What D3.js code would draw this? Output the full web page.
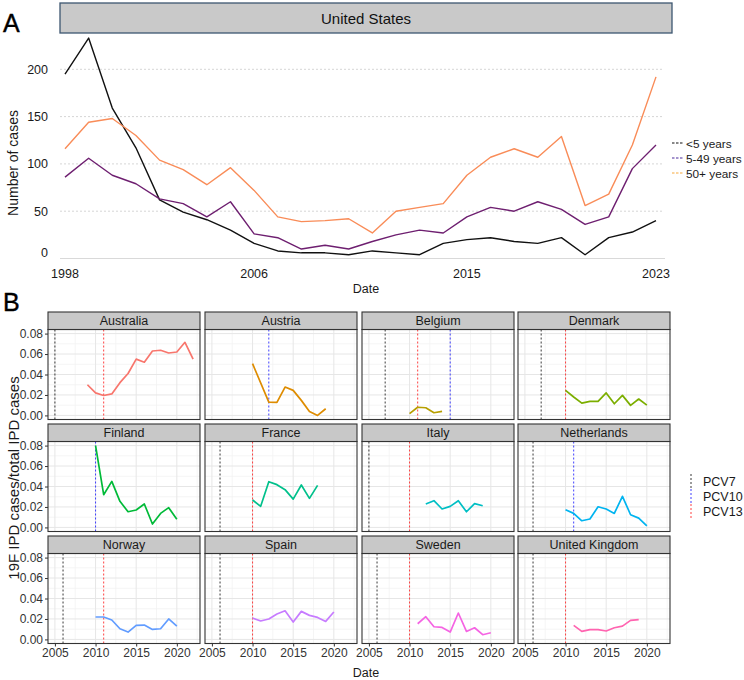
<!DOCTYPE html>
<html>
<head>
  <meta charset="utf-8">
  <script src="https://cdn.jsdelivr.net/npm/d3@7/dist/d3.min.js"></script>
  <style>
    body { margin: 0; background: white; }
    svg { font-family: "Liberation Sans", Arial, sans-serif; }
  </style>
</head>
<body>
  <script>
    // ---- panel A data: US cases by age group
    const usYears = [1998, 1999, 2000, 2001, 2002, 2003, 2004, 2005, 2006, 2007, 2008, 2009, 2010,
      2011, 2012, 2013, 2014, 2015, 2016, 2017, 2018, 2019, 2020, 2021, 2022, 2023]
    const under5 = [195, 233, 159, 117, 62, 49, 41, 30, 16, 8, 6, 6, 4, 8, 6, 4, 16, 20, 22, 18, 16, 22, 4, 22, 28, 40]
    const age5to49 = [86, 106, 88, 79, 63, 58, 44, 60, 26, 22, 10, 14, 10, 18, 25, 30, 27, 44, 54, 50, 60, 52, 36, 44, 95, 120]
    const age50plus = [116, 144, 148, 130, 104, 94, 78, 96, 72, 44, 39, 40, 42, 27, 50, 54, 58, 88, 107, 116, 107, 129, 56, 68, 120, 192]
    const usTicksX = [1998, 2006, 2015, 2023]
    const usTicksY = [0, 50, 100, 150, 200]
    const ageLabels = ['<5 years', '5-49 years', '50+ years']

    // ---- panel B data: 19F share of IPD cases
    const countries = ['Australia', 'Austria', 'Belgium', 'Denmark', 'Finland', 'France',
      'Italy', 'Netherlands', 'Norway', 'Spain', 'Sweden', 'United Kingdom']
    const ratioSeries = [
      [[2009, .030], [2010, .022], [2011, .0195], [2012, .021], [2013, .032], [2014, .041], [2015, .055], [2016, .052], [2017, .063], [2018, .0637], [2019, .061], [2020, .062], [2021, .0715], [2022, .055]],
      [[2010, .0506], [2012, .013], [2013, .0127], [2014, .0277], [2015, .0245], [2016, .0147], [2017, .0039], [2018, .0], [2019, .0065]],
      [[2010, .0018], [2011, .008], [2012, .0075], [2013, .0026], [2014, .004]],
      [[2010, .0245], [2011, .018], [2012, .012], [2013, .0137], [2014, .0137], [2015, .022], [2016, .0114], [2017, .0196], [2018, .0098], [2019, .016], [2020, .010]],
      [[2010, .080], [2011, .032], [2012, .045], [2013, .0255], [2014, .0153], [2015, .017], [2016, .0229], [2017, .0033], [2018, .0137], [2019, .0193], [2020, .008]],
      [[2010, .0268], [2011, .0206], [2012, .0447], [2013, .0418], [2014, .0369], [2015, .0277], [2016, .0415], [2017, .0284], [2018, .0411]],
      [[2012, .0229], [2013, .0261], [2014, .018], [2015, .0206], [2016, .0261], [2017, .0153], [2018, .0232], [2019, .0212]],
      [[2010, .0173], [2011, .0137], [2012, .0065], [2013, .0082], [2014, .0202], [2015, .018], [2016, .0137], [2017, .0304], [2018, .0124], [2019, .0091], [2020, .0016]],
      [[2010, .0219], [2011, .0219], [2012, .019], [2013, .0104], [2014, .0072], [2015, .0137], [2016, .014], [2017, .0098], [2018, .0104], [2019, .020], [2020, .013]],
      [[2010, .0209], [2011, .018], [2012, .020], [2013, .0248], [2014, .028], [2015, .017], [2016, .0274], [2017, .0235], [2018, .0215], [2019, .0176], [2020, .0268]],
      [[2011, .0153], [2012, .0222], [2013, .0124], [2014, .0117], [2015, .0072], [2016, .0258], [2017, .0078], [2018, .0114], [2019, .0046], [2020, .0065]],
      [[2011, .0137], [2012, .0078], [2013, .0095], [2014, .0095], [2015, .0082], [2016, .0114], [2017, .013], [2018, .0186], [2019, .0193]]
    ]
    const pcv7Year = [2005, null, 2007, 2007, null, 2006, 2005, 2006, 2006, 2006, 2006, 2006]
    const pcv10Year = [null, 2012, 2015, null, 2010, null, null, 2011, null, null, null, null]
    const pcv13Year = [2011, null, 2011, 2010, null, 2010, 2010, null, 2011, 2010, 2010, 2010]
    const vaccines = ['PCV7', 'PCV10', 'PCV13']
    const facetTicksX = [2005, 2010, 2015, 2020]
    const facetTicksY = [0, 0.02, 0.04, 0.06, 0.08]

    const ageColors = ['#111111', '#6e1f70', '#f98c58']
    const ageKeyColors = ['#111111', '#4b2a9c', '#f8a93c']
    const vaxColors = ['#222222', '#2b2bff', '#ff2b2b']
    // ggplot hue palette, 12 levels
    const hue = ['#F8766D', '#DE8C00', '#B79F00', '#7CAE00', '#00BA38', '#00C08B',
      '#00BFC4', '#00B4F0', '#619CFF', '#C77CFF', '#F564E3', '#FF64B0']

    const svg = d3.select('body').append('svg').attr('width', 744).attr('height', 680)

    // ================= Panel A =================
    svg.append('text').attr('x', 3).attr('y', 32).attr('font-size', 25)
      .attr('stroke', '#000').attr('stroke-width', 0.4).text('A')

    svg.append('rect').attr('x', 60).attr('y', 3).attr('width', 612).attr('height', 30)
      .attr('fill', '#c9c9c9').attr('stroke', '#3d5670').attr('stroke-width', 1.3)
    svg.append('text').attr('x', 366).attr('y', 23.5).attr('text-anchor', 'middle')
      .attr('font-size', 15).attr('fill', '#111').text('United States')

    const xA = d3.scaleLinear().domain([1998, 2023]).range([65, 656])
    const yA = d3.scaleLinear().domain([0, 200]).range([258.5, 69.3])

    const gA = svg.append('g')
    gA.selectAll('line.grid').data(usTicksY.slice(1)).join('line')
      .attr('x1', 60).attr('x2', 664).attr('y1', d => yA(d)).attr('y2', d => yA(d))
      .attr('stroke', '#d6d6d6').attr('stroke-dasharray', '2,2')
    gA.append('line').attr('x1', 60).attr('x2', 665).attr('y1', yA(0)).attr('y2', yA(0))
      .attr('stroke', '#d9d9d9')

    gA.selectAll('text.yt').data(usTicksY).join('text')
      .attr('x', 48).attr('y', d => yA(d) + (d === 0 ? -1.5 : 4.5)).attr('text-anchor', 'end')
      .attr('font-size', 12.5).attr('fill', '#1a1a1a').text(d => d)
    gA.selectAll('text.xt').data(usTicksX).join('text')
      .attr('x', d => xA(d)).attr('y', 278).attr('text-anchor', 'middle')
      .attr('font-size', 12.5).attr('fill', '#1a1a1a').text(d => d)

    svg.append('text').attr('x', 366).attr('y', 293).attr('text-anchor', 'middle')
      .attr('font-size', 12.5).attr('fill', '#1a1a1a').text('Date')
    svg.append('text').attr('transform', 'translate(18,163) rotate(-90)').attr('text-anchor', 'middle')
      .attr('font-size', 14).attr('fill', '#1a1a1a').text('Number of cases')

    const lineA = d3.line().x((d, i) => xA(usYears[i])).y(d => yA(d))
    ;[under5, age5to49, age50plus].forEach((s, k) => {
      gA.append('path').datum(s).attr('d', lineA).attr('fill', 'none')
        .attr('stroke', ageColors[k]).attr('stroke-width', 1.4).attr('stroke-linejoin', 'round')
    })

    ageLabels.forEach((lab, k) => {
      const y = 143 + k * 15
      svg.append('line').attr('x1', 672).attr('x2', 684).attr('y1', y).attr('y2', y)
        .attr('stroke', ageKeyColors[k]).attr('stroke-width', 1.2).attr('stroke-dasharray', '2.5,1.5')
      svg.append('text').attr('x', 686).attr('y', y + 4.5).attr('font-size', 11.8)
        .attr('fill', '#1a1a1a').text(lab)
    })

    // ================= Panel B =================
    svg.append('text').attr('x', 3).attr('y', 311).attr('font-size', 25)
      .attr('stroke', '#000').attr('stroke-width', 0.4).text('B')

    const colX = [48, 205, 362, 518]
    const rowY = [312, 424, 536]
    const panelW = 152, stripH = 17.5, plotH = 90

    countries.forEach((name, i) => {
      const c = i % 4, r = Math.floor(i / 4)
      const left = colX[c], top = rowY[r] + stripH
      const x = d3.scaleLinear().domain([2004.15, 2022.85]).range([left, left + panelW])
      const y = d3.scaleLinear().domain([-0.004, 0.084]).range([top + plotH, top])
      const g = svg.append('g')

      g.append('rect').attr('x', left).attr('y', top).attr('width', panelW).attr('height', plotH)
        .attr('fill', 'white')
      // minor grid
      const minorX = [2007.5, 2012.5, 2017.5, 2022.5]
      const minorY = [0.01, 0.03, 0.05, 0.07]
      g.selectAll('line.mx').data(minorX).join('line')
        .attr('x1', d => x(d)).attr('x2', d => x(d)).attr('y1', top).attr('y2', top + plotH)
        .attr('stroke', '#f2f2f2').attr('stroke-width', 0.8)
      g.selectAll('line.my').data(minorY).join('line')
        .attr('y1', d => y(d)).attr('y2', d => y(d)).attr('x1', left).attr('x2', left + panelW)
        .attr('stroke', '#f2f2f2').attr('stroke-width', 0.8)
      // major grid
      g.selectAll('line.gx').data(facetTicksX).join('line')
        .attr('x1', d => x(d)).attr('x2', d => x(d)).attr('y1', top).attr('y2', top + plotH)
        .attr('stroke', '#e6e6e6').attr('stroke-width', 1)
      g.selectAll('line.gy').data(facetTicksY).join('line')
        .attr('y1', d => y(d)).attr('y2', d => y(d)).attr('x1', left).attr('x2', left + panelW)
        .attr('stroke', '#e6e6e6').attr('stroke-width', 1)

      // vaccine introduction lines
      ;[pcv7Year[i], pcv10Year[i], pcv13Year[i]].forEach((yr, k) => {
        if (yr == null) return
        g.append('line').attr('x1', x(yr)).attr('x2', x(yr)).attr('y1', top).attr('y2', top + plotH)
          .attr('stroke', vaxColors[k]).attr('stroke-width', 0.9).attr('stroke-dasharray', '2,2')
      })

      g.append('path').datum(ratioSeries[i])
        .attr('d', d3.line().x(d => x(d[0])).y(d => y(d[1])))
        .attr('fill', 'none').attr('stroke', hue[i]).attr('stroke-width', 1.7)
        .attr('stroke-linejoin', 'round')

      g.append('rect').attr('x', left).attr('y', top).attr('width', panelW).attr('height', plotH)
        .attr('fill', 'none').attr('stroke', '#333').attr('stroke-width', 1.1)

      // strip
      g.append('rect').attr('x', left).attr('y', rowY[r]).attr('width', panelW).attr('height', stripH)
        .attr('fill', '#c8c8c8').attr('stroke', '#333').attr('stroke-width', 1.1)
      g.append('text').attr('x', left + panelW / 2).attr('y', rowY[r] + 13).attr('text-anchor', 'middle')
        .attr('font-size', 12.5).attr('fill', '#1a1a1a').text(name)

      if (c === 0) {
        const ax = g.append('g').attr('transform', `translate(${left},0)`)
          .call(d3.axisLeft(y).tickValues(facetTicksY).tickSize(3).tickPadding(2).tickFormat(d3.format('.2f')))
        ax.select('.domain').remove()
        ax.selectAll('line').attr('stroke', '#333')
        ax.selectAll('text').attr('font-size', 12).attr('fill', '#333')
          .attr('font-family', '"Liberation Sans", Arial, sans-serif')
      }
      if (r === 2) {
        const ax = g.append('g').attr('transform', `translate(0,${top + plotH})`)
          .call(d3.axisBottom(x).tickValues(facetTicksX).tickSize(3).tickPadding(2).tickFormat(d3.format('d')))
        ax.select('.domain').remove()
        ax.selectAll('line').attr('stroke', '#333')
        ax.selectAll('text').attr('font-size', 12).attr('fill', '#333')
          .attr('font-family', '"Liberation Sans", Arial, sans-serif')
      }
    })

    svg.append('text').attr('x', 366).attr('y', 677).attr('text-anchor', 'middle')
      .attr('font-size', 12.5).attr('fill', '#1a1a1a').text('Date')
    svg.append('text').attr('transform', 'translate(19,478) rotate(-90)').attr('text-anchor', 'middle')
      .attr('font-size', 15).attr('fill', '#1a1a1a').text('19F IPD cases/total IPD cases')

    vaccines.forEach((v, k) => {
      const y0 = 474 + k * 15
      svg.append('line').attr('x1', 691).attr('x2', 691).attr('y1', y0).attr('y2', y0 + 14)
        .attr('stroke', vaxColors[k]).attr('stroke-width', 0.9).attr('stroke-dasharray', '2,2')
      svg.append('text').attr('x', 703).attr('y', y0 + 12).attr('font-size', 12.5)
        .attr('fill', '#1a1a1a').text(v)
    })
  </script>
</body>
</html>
